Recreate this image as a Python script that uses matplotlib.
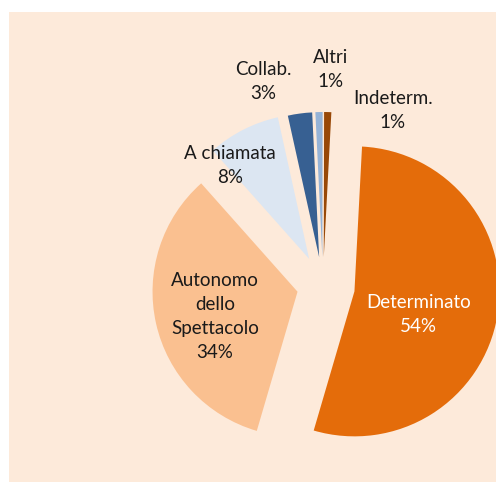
import matplotlib
matplotlib.use("Agg")
import matplotlib.pyplot as plt
from matplotlib.patches import Rectangle

# dati (quote percentuali per tipologia di contratto)
categorie = ["Determinato", "Autonomo\ndello\nSpettacolo", "A chiamata",
             "Collab.", "Altri", "Indeterm."]
quote = [53.7, 33.9, 8.1, 2.7, 0.8, 0.8]

colori = ["#E46C0A", "#FAC090", "#DCE6F2", "#376092", "#95B3D7", "#984807"]
esplodi = [0.22, 0.18, 0.21, 0.2, 0.2, 0.2]
# posizione etichette (offset dal centro, in raggi)
pos_etichette = [(0.66, -0.20), (-0.745, -0.21), (-0.64, 0.83),
                 (-0.414, 1.41), (0.055, 1.49), (0.48, 1.21)]
colore_testo = ["white", "#1a1a1a", "#1a1a1a", "#1a1a1a", "#1a1a1a", "#1a1a1a"]

plt.rcParams["font.family"] = ["Lato", "DejaVu Sans"]

W, H = 496, 482
fig = plt.figure(figsize=(W / 100, H / 100), dpi=100)
fig.patch.set_facecolor("white")
fig.add_artist(Rectangle((9 / W, 0), 1 - 9 / W, 1 - 12 / H,
                         transform=fig.transFigure, facecolor="#FDEADA",
                         edgecolor="none", zorder=0))

ax = fig.add_axes([0, 0, 1, 1])
ax.set_facecolor("none")

R = 145.0
cx, cy = 323.0, 286.0

ax.pie(quote, colors=colori, explode=esplodi, startangle=87,
       counterclock=False, radius=1.0,
       wedgeprops=dict(linewidth=0), frame=True)
ax.set_xlim(-cx / R, (W - cx) / R)
ax.set_ylim(-(H - cy) / R, cy / R)
ax.set_aspect("auto")
ax.axis("off")

for nome, q, (x, y), c in zip(categorie, quote, pos_etichette, colore_testo):
    ax.text(x, y, f"{nome}\n{round(q):d}%", ha="center", va="center",
            fontsize=13.5, color=c, linespacing=1.5)

fig.savefig("out.png", dpi=100)
